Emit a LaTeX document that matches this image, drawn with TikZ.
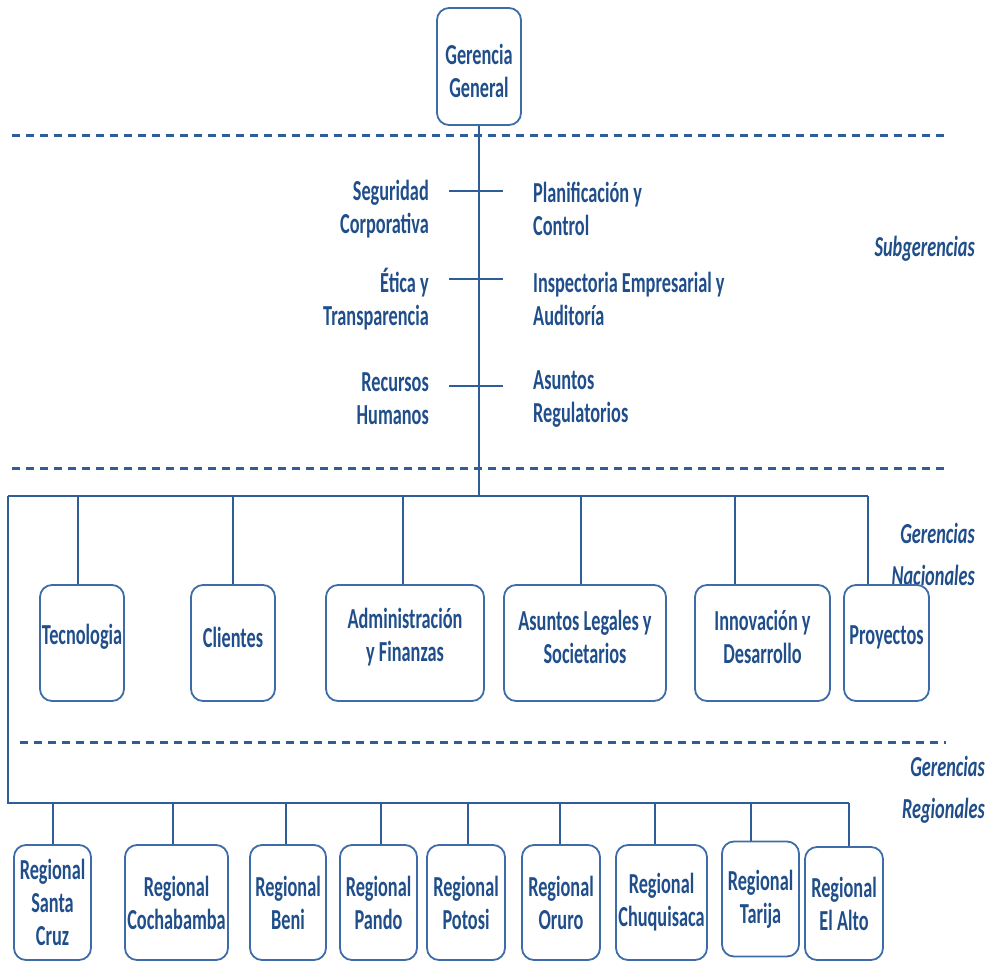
\documentclass[tikz,border=0pt]{standalone}
\usepackage{fontspec}
\setmainfont{Carlito}[FakeStretch=0.63]
\definecolor{txt}{HTML}{1F4E8A}
\definecolor{ln}{HTML}{2E5D98}
\definecolor{bx}{HTML}{3D6CA8}
\begin{document}
\begin{tikzpicture}[x=1pt,y=-1pt,
  font=\fontsize{29}{33}\selectfont\bfseries,
  box/.style={draw=bx,line width=1.8pt,rounded corners=12pt,text=txt,align=center,inner sep=0pt},
  conn/.style={draw=ln,line width=1.4pt},
  sepline/.style={draw=ln,line width=3pt,dash pattern=on 8pt off 6pt},
  lbl/.style={text=txt,inner sep=0pt},
  ital/.style={text=txt,font=\fontsize{29}{42}\selectfont\bfseries\itshape,align=right,inner sep=0pt}]
\useasboundingbox (0,0) rectangle (989,961);

% top
\node[box,minimum width=84pt,minimum height=117pt] (gg) at (479,66.5) {};
\node[lbl,align=center] (ggt) at (gg.center) [yshift=-4pt] {Gerencia\\General};

% separators
\coordinate (s1a) at (12,135); \coordinate (s1b) at (948,135);
\coordinate (s2a) at (12,468); \coordinate (s2b) at (948,468);
\coordinate (s3a) at (20,742); \coordinate (s3b) at (946,742);
\draw[sepline] (s1a) -- (s1b);
\draw[sepline] (s2a) -- (s2b);
\draw[sepline] (s3a) -- (s3b);

% subgerencias
\node[lbl,align=right,anchor=east] (seg) at (429,209) {Seguridad\\Corporativa};
\node[lbl,align=left,anchor=west] (pla) at (533,209) {Planificación y\\Control};
\node[lbl,align=right,anchor=east] (eti) at (429,299) {Ética y\\Transparencia};
\node[lbl,align=left,anchor=west] (ins) at (533,299) {Inspectoria Empresarial y\\Auditoría};
\node[lbl,align=right,anchor=east] (rrh) at (429,399) {Recursos\\Humanos};
\node[lbl,align=left,anchor=west] (asr) at (533,399) {Asuntos\\Regulatorios};
\coordinate (t1a) at (449,191); \coordinate (t1b) at (503,191);
\coordinate (t2a) at (449,279); \coordinate (t2b) at (503,279);
\coordinate (t3a) at (449,386); \coordinate (t3b) at (503,386);
\draw[conn] (t1a) -- (t1b);
\draw[conn] (t2a) -- (t2b);
\draw[conn] (t3a) -- (t3b);

\node[ital,anchor=east] (lsub) at (975,249) {Subgerencias};
\node[ital,anchor=east] (lnac) at (975,554) {Gerencias\\Nacionales};
\node[ital,anchor=east] (lreg) at (985,790) {Gerencias\\Regionales};

% bus nacional
\coordinate (busL) at (8,496);
\coordinate (busR) at (868,496);
\coordinate (rbusL) at (8,803);
\coordinate (rbusR) at (849,803);
\draw[conn] (gg.south) -- (gg.south |- busL);
\draw[conn] (busL) -- (busR);
\draw[conn] (busL) -- (rbusL) -- (rbusR);

% gerencias nacionales
\tikzset{nac/.style={box,minimum height=116pt},
         nact/.style={lbl,align=center,yshift=6pt}}
\node[nac,minimum width=84pt] (tec) at (82,643) {};
\node[nac,minimum width=84pt] (cli) at (233,643) {};
\node[nac,minimum width=158pt] (adm) at (405,643) {};
\node[nac,minimum width=162pt] (leg) at (585,643) {};
\node[nac,minimum width=135pt] (inn) at (762.5,643) {};
\node[nac,minimum width=85pt] (pro) at (886.5,643) {};
\node[nact] (tect) at (tec.center) {Tecnologia};
\node[nact] (clit) at (cli.center) {Clientes};
\node[nact] (admt) at (adm.center) {Administración\\y Finanzas};
\node[nact] (legt) at (leg.center) {Asuntos Legales y\\Societarios};
\node[nact] (innt) at (inn.center) {Innovación y\\Desarrollo};
\node[nact] (prot) at (pro.center) {Proyectos};

\foreach \n/\x in {tec/78,cli/233,adm/403,leg/581,inn/735,pro/868}{
  \coordinate (d\n) at (\x,496);
  \draw[conn] (d\n) -- (d\n |- \n.north);
}

% gerencias regionales
\tikzset{reg/.style={box,minimum height=115pt}}
\node[reg,minimum width=77pt] (rsc) at (52.5,902.5) {Regional\\Santa\\Cruz};
\node[reg,minimum width=103pt] (rco) at (176.5,902.5) {Regional\\Cochabamba};
\node[reg,minimum width=76pt] (rbe) at (288,902.5) {Regional\\Beni};
\node[reg,minimum width=77pt] (rpa) at (378.5,902.5) {Regional\\Pando};
\node[reg,minimum width=78pt] (rpo) at (466,902.5) {Regional\\Potosi};
\node[reg,minimum width=78pt] (ror) at (561,902.5) {Regional\\Oruro};
\node[reg,minimum width=91pt] (rch) at (661.5,902.5) {Regional\\Chuquisaca};
\node[reg,minimum width=77pt] (rta) at (760.5,899) {Regional\\Tarija};
\node[reg,minimum width=78pt,minimum height=113pt] (ral) at (844,903.5) {Regional\\El Alto};

\foreach \n/\x in {rsc/53,rco/173,rbe/286,rpa/381,rpo/468,ror/560,rch/655,rta/751,ral/849}{
  \coordinate (d\n) at (\x,803);
  \draw[conn] (d\n) -- (d\n |- \n.north);
}
\end{tikzpicture}
\end{document}
